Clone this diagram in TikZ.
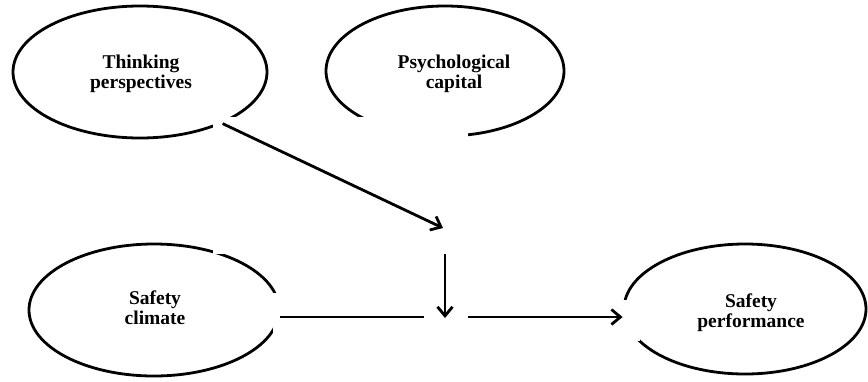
\documentclass[tikz,border=0pt]{standalone}
\usepackage{fontspec}
\setmainfont{Liberation Serif}
\usetikzlibrary{shapes.geometric,arrows.meta}
\begin{document}
\begin{tikzpicture}[x=1pt,y=-1pt,
    var/.style={draw,ellipse,line width=2.8pt,inner sep=0pt},
    lbl/.style={align=center,inner sep=0pt,font=\fontsize{19.5}{20}\selectfont\bfseries},
    link/.style={line width=2.8pt},
    arr/.style={link,-{Straight Barb[length=9pt,width=15pt]}}]
  \useasboundingbox (0,0) rectangle (868,381);
  % the four constructs
  \node[var,minimum width=254pt,minimum height=132pt] (think) at (140,72) {};
  \node[var,minimum width=238pt,minimum height=130pt] (psy) at (445,71) {};
  \node[var,minimum width=250pt,minimum height=132pt] (clim) at (154,310) {};
  \node[var,minimum width=242pt,minimum height=130pt] (perf) at (745,309) {};
  \node[lbl] (thinktxt) at (141,74) {Thinking\\perspectives};
  \node[lbl] (psytxt) at (454,74) {Psychological\\capital};
  \node[lbl] (climtxt) at (155,308) {Safety\\climate};
  \node[lbl] (perftxt) at (751,313) {Safety\\performance};
  % blank patches over the outlines
  \fill[white] (213,117) rectangle (468,254);
  \fill[white] (273,293) rectangle (440,337);
  \fill[white] (450,300) rectangle (640,341);
  % paths
  \coordinate (ja) at (443,228);
  \coordinate (jt) at (445,254);
  \coordinate (jb) at (445,318);
  \coordinate (jl) at (424,317);
  \coordinate (jr) at (468,317);
  \draw[arr] (think.-32) -- (ja);
  \draw[arr] (jt) -- (jb);
  \draw[link] (clim.east |- jl) -- (jl);
  \draw[arr] (jr) -- (jr -| perf.west);
\end{tikzpicture}
\end{document}
